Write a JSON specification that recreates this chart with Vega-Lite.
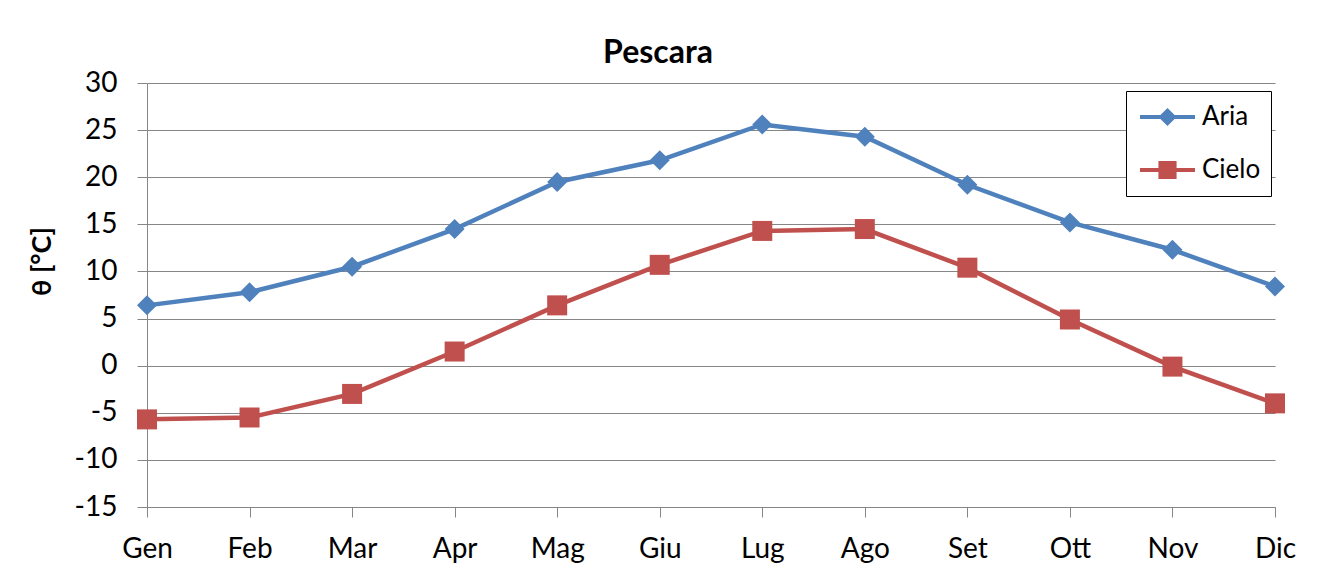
{
  "$schema": "https://vega.github.io/schema/vega-lite/v6.json",
  "width": 1128,
  "height": 424,
  "autosize": {"type": "none"},
  "padding": {"left": 147, "top": 83, "right": 42, "bottom": 76},
  "background": "white",
  "config": {
    "font": "Lato",
    "view": {"stroke": null},
    "axis": {"labelFont": "Lato", "labelFontSize": 28, "labelColor": "#000000", "domainColor": "#868686", "tickColor": "#868686", "gridColor": "#868686", "domainWidth": 1, "tickWidth": 1, "gridWidth": 1, "tickSize": 10}
  },
  "title": {"text": "Pescara", "font": "Lato", "fontSize": 32, "fontWeight": "bold", "color": "#000000", "anchor": "middle", "dx": -53, "dy": 7, "offset": 6},
  "data": {"values": [
    {"mese": "Gen", "serie": "Aria", "t": 6.4},
    {"mese": "Feb", "serie": "Aria", "t": 7.8},
    {"mese": "Mar", "serie": "Aria", "t": 10.5},
    {"mese": "Apr", "serie": "Aria", "t": 14.5},
    {"mese": "Mag", "serie": "Aria", "t": 19.5},
    {"mese": "Giu", "serie": "Aria", "t": 21.8},
    {"mese": "Lug", "serie": "Aria", "t": 25.6},
    {"mese": "Ago", "serie": "Aria", "t": 24.3},
    {"mese": "Set", "serie": "Aria", "t": 19.2},
    {"mese": "Ott", "serie": "Aria", "t": 15.2},
    {"mese": "Nov", "serie": "Aria", "t": 12.3},
    {"mese": "Dic", "serie": "Aria", "t": 8.4},
    {"mese": "Gen", "serie": "Cielo", "t": -5.7},
    {"mese": "Feb", "serie": "Cielo", "t": -5.5},
    {"mese": "Mar", "serie": "Cielo", "t": -3.0},
    {"mese": "Apr", "serie": "Cielo", "t": 1.5},
    {"mese": "Mag", "serie": "Cielo", "t": 6.4},
    {"mese": "Giu", "serie": "Cielo", "t": 10.7},
    {"mese": "Lug", "serie": "Cielo", "t": 14.3},
    {"mese": "Ago", "serie": "Cielo", "t": 14.5},
    {"mese": "Set", "serie": "Cielo", "t": 10.4},
    {"mese": "Ott", "serie": "Cielo", "t": 4.9},
    {"mese": "Nov", "serie": "Cielo", "t": -0.1},
    {"mese": "Dic", "serie": "Cielo", "t": -4.0}
  ]},
  "encoding": {
    "x": {"field": "mese", "type": "ordinal", "sort": null,
      "scale": {"type": "point", "padding": 0},
      "axis": {"title": null, "labelAngle": 0, "labelPadding": 18, "grid": false, "labelBaseline": "top"}},
    "y": {"field": "t", "type": "quantitative",
      "scale": {"domain": [-15, 30], "nice": false, "zero": false},
      "axis": {"values": [-15, -10, -5, 0, 5, 10, 15, 20, 25, 30], "labelExpr": "toString(datum.value)", "title": "θ [°C]", "titleFont": "Lato", "titleFontSize": 27, "titleFontWeight": "bold", "titleColor": "#000000", "titleAngle": 270, "titleX": -105, "titleY": 178, "titleAlign": "center", "titleBaseline": "middle", "labelPadding": 20, "labelBaseline": "middle", "grid": true}},
    "color": {"field": "serie", "type": "nominal",
      "scale": {"domain": ["Aria", "Cielo"], "range": ["#4F81BD", "#C0504D"]},
      "legend": {"title": null, "orient": "none", "legendX": 979, "legendY": 8, "strokeColor": "#000000", "fillColor": "#ffffff", "padding": 10, "symbolSize": 3025, "symbolStrokeWidth": 0, "symbolOffset": 4, "labelOffset": 7, "labelFont": "Lato", "labelFontSize": 26, "labelColor": "#000000", "clipHeight": 32, "rowPadding": 21,
        "encode": {"symbols": {"update": {
          "shape": {"signal": "datum.value === 'Aria' ? 'M-1,-0.073L-0.257,-0.073L0,-0.33L0.257,-0.073L1,-0.073L1,0.073L0.257,0.073L0,0.33L-0.257,0.073L-1,0.073Z' : 'M-1,-0.073L-0.33,-0.073L-0.33,-0.33L0.33,-0.33L0.33,-0.073L1,-0.073L1,0.073L0.33,0.073L0.33,0.33L-0.33,0.33L-0.33,0.073L-1,0.073Z'"},
          "size": {"value": 3025},
          "strokeWidth": {"value": 0},
          "stroke": {"value": "transparent"},
          "fill": {"signal": "datum.value === 'Aria' ? '#4F81BD' : '#C0504D'"},
          "opacity": {"value": 1}
        }}}}}
  },
  "layer": [
    {
      "mark": {"type": "line", "strokeWidth": 4.5}
    },
    {
      "transform": [{"filter": "datum.serie === 'Aria'"}],
      "mark": {"type": "point", "filled": true, "opacity": 1, "size": 400, "shape": "diamond"}
    },
    {
      "transform": [{"filter": "datum.serie === 'Cielo'"}],
      "mark": {"type": "point", "filled": true, "opacity": 1, "size": 400, "shape": "square"}
    }
  ]
}
